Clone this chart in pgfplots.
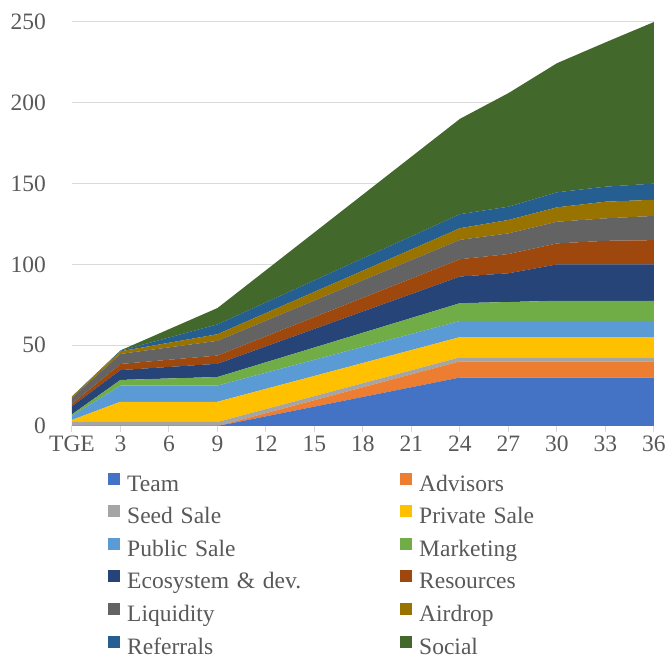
\documentclass[border=0pt]{standalone}
\usepackage{pgfplots}
\usepackage{pgfplotstable}
\usepackage{fontspec}
\setmainfont{Liberation Serif}
\pgfplotsset{compat=1.18}
\definecolor{cTeam}{HTML}{4472C4}
\definecolor{cAdv}{HTML}{ED7D31}
\definecolor{cSeed}{HTML}{A5A5A5}
\definecolor{cPriv}{HTML}{FFC000}
\definecolor{cPub}{HTML}{5B9BD5}
\definecolor{cMkt}{HTML}{70AD47}
\definecolor{cEco}{HTML}{264478}
\definecolor{cRes}{HTML}{9E480E}
\definecolor{cLiq}{HTML}{636363}
\definecolor{cAir}{HTML}{997300}
\definecolor{cRef}{HTML}{255E91}
\definecolor{cSoc}{HTML}{43682B}
\definecolor{gridgray}{HTML}{D9D9D9}
\definecolor{textgray}{HTML}{595959}
\pgfplotstableread{
x  team adv seed priv pub  mkt  eco   res  liq   air  ref  soc
0  0    0   2.5  1.25 2.5  1    5     1.5  3.75  0.75 0    0
3  0    0   2.5  12.5 10   3.5  6.1   3.8  6.2   1.6  0.4  0.2
6  0    0   2.5  12.5 10   4.4  7.15  4.45 7.65  2.85 3.25 5.15
9  0    0   2.5  12.5 10   5.3  8.2   5.1  9.1   4.1  6.1  10.1
12 6    2   2.5  12.5 10   6.44 9.86  6.22 9.68  4.72 6.62 19.88
15 12   4   2.5  12.5 10   7.58 11.52 7.34 10.26 5.34 7.14 29.66
18 18   6   2.5  12.5 10   8.72 13.18 8.46 10.84 5.96 7.66 39.44
21 24   8   2.5  12.5 10   9.86 14.84 9.58 11.42 6.58 8.18 49.22
24 30   10  2.5  12.5 10   11   16.5  10.7 12    7.2  8.7  59
27 30   10  2.5  12.5 10   11.7 17.8  11.9 12.8  8.3  8.2  70.3
30 30   10  2.5  12.5 10   12.5 22.5  13   13.4  8.9  9.3  79.9
33 30   10  2.5  12.5 10   12.5 22.5  14.6 13.9  10.3 9.3  89.3
36 30   10  2.5  12.5 10   12.5 22.5  15   15    10   10   100
}\datatable
\begin{document}
\begin{tikzpicture}
\useasboundingbox (-72pt,-232pt) rectangle (595pt,426pt);
\begin{axis}[
  scale only axis, width=582pt, height=404pt,
  xmin=0, xmax=36, ymin=0, ymax=250,
  font=\fontsize{23.5}{28}\selectfont,
  /pgf/number format/assume math mode=true,
  xtick={0,3,...,36},
  xticklabels={TGE,3,6,9,12,15,18,21,24,27,30,33,36},
  ytick={0,50,...,250},
  ymajorgrids, grid style={draw=gridgray, line width=1pt},
  axis lines*=left,
  x axis line style={draw=gridgray, line width=1pt, -},
  y axis line style={draw=none},
  ytick style={draw=none},
  xtick style={draw=gridgray, line width=1pt},
  tick align=outside, major tick length=6pt,
  tick label style={text=textgray},
  yticklabel style={anchor=east, inner sep=0pt, xshift=-20pt},
  xticklabel style={anchor=north, inner sep=0pt, yshift=-4pt},
  stack plots=y,
  every axis plot/.append style={draw=none},
  legend columns=2,
  legend cell align=left,
  legend image code/.code={\fill[#1] (0pt,1pt) rectangle (12pt,13pt);},
  legend style={at={(axis description cs:0.0619,-0.115)}, anchor=north west,
    draw=none, inner sep=0pt, column sep=0pt, row sep=8.1pt,
    nodes={inner xsep=7pt, inner ysep=0pt, text height=17pt, text depth=6pt,
      text width=266pt, align=left, text=textgray}},
]
\addplot[fill=cTeam] table[x=x,y=team]{\datatable} \closedcycle;
\addlegendentry{Team}
\addplot[fill=cAdv] table[x=x,y=adv]{\datatable} \closedcycle;
\addlegendentry{Advisors}
\addplot[fill=cSeed] table[x=x,y=seed]{\datatable} \closedcycle;
\addlegendentry{Seed Sale}
\addplot[fill=cPriv] table[x=x,y=priv]{\datatable} \closedcycle;
\addlegendentry{Private Sale}
\addplot[fill=cPub] table[x=x,y=pub]{\datatable} \closedcycle;
\addlegendentry{Public Sale}
\addplot[fill=cMkt] table[x=x,y=mkt]{\datatable} \closedcycle;
\addlegendentry{Marketing}
\addplot[fill=cEco] table[x=x,y=eco]{\datatable} \closedcycle;
\addlegendentry{Ecosystem \& dev.}
\addplot[fill=cRes] table[x=x,y=res]{\datatable} \closedcycle;
\addlegendentry{Resources}
\addplot[fill=cLiq] table[x=x,y=liq]{\datatable} \closedcycle;
\addlegendentry{Liquidity}
\addplot[fill=cAir] table[x=x,y=air]{\datatable} \closedcycle;
\addlegendentry{Airdrop}
\addplot[fill=cRef] table[x=x,y=ref]{\datatable} \closedcycle;
\addlegendentry{Referrals}
\addplot[fill=cSoc] table[x=x,y=soc]{\datatable} \closedcycle;
\addlegendentry{Social}
\end{axis}
\end{tikzpicture}
\end{document}
